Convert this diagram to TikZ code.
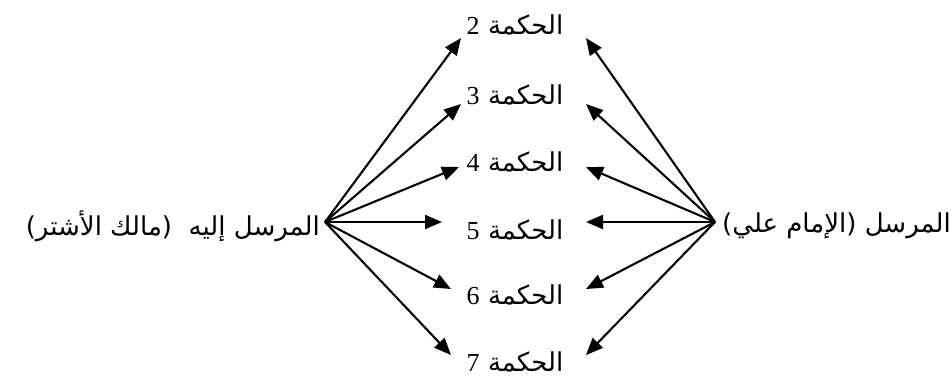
\documentclass[tikz,border=0pt]{standalone}
\usepackage{fontspec}
\setmainfont{Liberation Serif}
\newfontfamily\arabicfont[Script=Arabic]{DejaVu Sans}
\TeXXeTstate=1
\usetikzlibrary{arrows.meta}
\newcommand{\dg}[1]{{\rmfamily\fontsize{26}{30}\selectfont #1}}
\begin{document}
\begin{tikzpicture}[x=1pt,y=-1pt,
  lbl/.style={inner sep=0pt, font=\arabicfont\fontsize{26}{30}\selectfont},
  arr/.style={line width=2.1pt, -{Triangle[length=17pt,width=14pt]}}]
\useasboundingbox (0,0) rectangle (952,381);
\coordinate (L) at (325,222);
\coordinate (R) at (715,222);
\node[lbl, anchor=east] (recv) at (320,226) {\beginR المرسل إليه\ \ (مالك الأشتر)\endR};
\node[lbl, anchor=west] (send) at (722,226) {\beginR المرسل (الإمام علي)\endR};
\node[lbl] (h2) at (515,25) {\beginR الحكمة \dg{2}\endR};
\node[lbl] (h3) at (515,95) {\beginR الحكمة \dg{3}\endR};
\node[lbl] (h4) at (515,162) {\beginR الحكمة \dg{4}\endR};
\node[lbl] (h5) at (515,230) {\beginR الحكمة \dg{5}\endR};
\node[lbl] (h6) at (515,295) {\beginR الحكمة \dg{6}\endR};
\node[lbl] (h7) at (515,362) {\beginR الحكمة \dg{7}\endR};
\coordinate (l2) at (461,38);
\coordinate (l3) at (461,104);
\coordinate (l4) at (459,167);
\coordinate (l5) at (442,222);
\coordinate (l6) at (451,289);
\coordinate (l7) at (451,355);
\coordinate (r2) at (586,38);
\coordinate (r3) at (586,104);
\coordinate (r4) at (586,167);
\coordinate (r5) at (586,222);
\coordinate (r6) at (586,289);
\coordinate (r7) at (586,355);
\foreach \i in {2,...,7} {
  \draw[arr] (L) -- (l\i);
  \draw[arr] (R) -- (r\i);
}
\end{tikzpicture}
\end{document}
